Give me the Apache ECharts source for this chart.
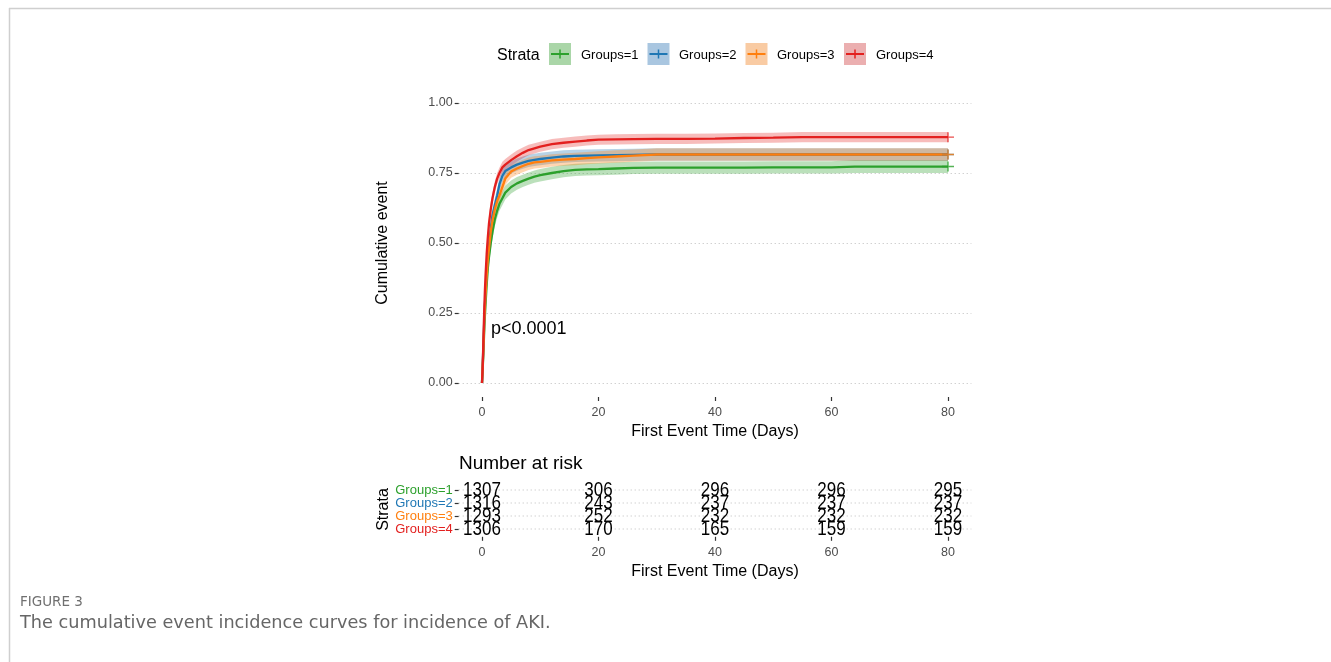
<!DOCTYPE html>
<html>
<head>
<meta charset="utf-8">
<script src="https://cdn.jsdelivr.net/npm/echarts@6/dist/echarts.min.js"></script>
<style>
html,body{margin:0;padding:0;background:#fff;}
#chart{width:1331px;height:662px;}
</style>
</head>
<body>
<div id="chart"></div>
<script>
// ---------- data ----------
const groupNames = ['Groups=1', 'Groups=2', 'Groups=3', 'Groups=4'];
const times = [0,0.1,0.2,0.3,0.4,0.5,0.6,0.8,1.0,1.2,1.5,1.8,2.2,2.6,3.0,3.5,4,5,6,7,8,9,10,12,14,16,18,20,23,26,30,35,40,45,50,55,60,64,70,75,80];

const est1 = [0,0.04,0.09,0.14,0.20,0.24,0.28,0.35,0.41,0.45,0.50,0.54,0.585,0.615,0.64,0.66,0.68,0.70,0.713,0.722,0.73,0.737,0.742,0.75,0.757,0.761,0.763,0.764,0.766,0.768,0.769,0.769,0.769,0.769,0.770,0.770,0.770,0.773,0.773,0.773,0.773];
const lo1  = [0,0.03,0.075,0.12,0.18,0.22,0.255,0.325,0.385,0.425,0.475,0.515,0.56,0.59,0.615,0.635,0.655,0.677,0.69,0.70,0.708,0.715,0.72,0.728,0.735,0.739,0.741,0.742,0.744,0.746,0.747,0.747,0.747,0.747,0.748,0.748,0.748,0.75,0.75,0.75,0.75];
const hi1  = [0,0.05,0.105,0.16,0.22,0.26,0.305,0.375,0.435,0.475,0.525,0.565,0.61,0.64,0.665,0.685,0.705,0.723,0.736,0.744,0.752,0.759,0.764,0.772,0.779,0.783,0.785,0.786,0.788,0.79,0.791,0.791,0.791,0.791,0.792,0.792,0.792,0.796,0.796,0.796,0.796];

const est2 = [0,0.05,0.11,0.17,0.23,0.28,0.32,0.39,0.45,0.49,0.55,0.60,0.635,0.67,0.71,0.74,0.757,0.77,0.78,0.787,0.793,0.797,0.80,0.805,0.809,0.811,0.812,0.813,0.814,0.815,0.816,0.816,0.816,0.816,0.816,0.816,0.816,0.816,0.816,0.816,0.816];
const lo2  = [0,0.038,0.095,0.15,0.21,0.258,0.297,0.367,0.427,0.467,0.527,0.577,0.612,0.647,0.687,0.717,0.734,0.748,0.758,0.765,0.771,0.775,0.778,0.783,0.787,0.789,0.79,0.791,0.792,0.793,0.794,0.794,0.794,0.794,0.794,0.794,0.794,0.794,0.794,0.794,0.794];
const hi2  = [0,0.062,0.125,0.19,0.25,0.302,0.343,0.413,0.473,0.513,0.573,0.623,0.658,0.693,0.733,0.763,0.78,0.792,0.802,0.809,0.815,0.819,0.822,0.827,0.831,0.833,0.834,0.835,0.836,0.837,0.838,0.838,0.838,0.838,0.838,0.838,0.838,0.838,0.838,0.838,0.838];

const est3 = [0,0.05,0.10,0.16,0.22,0.27,0.31,0.38,0.44,0.48,0.54,0.58,0.62,0.65,0.67,0.70,0.73,0.755,0.766,0.775,0.783,0.788,0.79,0.795,0.798,0.80,0.803,0.806,0.809,0.812,0.816,0.816,0.816,0.816,0.816,0.816,0.816,0.816,0.816,0.816,0.816];
const lo3  = [0,0.038,0.085,0.14,0.2,0.248,0.287,0.357,0.417,0.457,0.517,0.557,0.597,0.627,0.647,0.677,0.707,0.733,0.744,0.753,0.761,0.766,0.768,0.773,0.776,0.778,0.781,0.784,0.787,0.79,0.794,0.794,0.794,0.794,0.794,0.794,0.794,0.794,0.794,0.794,0.794];
const hi3  = [0,0.062,0.115,0.18,0.24,0.292,0.333,0.403,0.463,0.503,0.563,0.603,0.643,0.673,0.693,0.723,0.753,0.777,0.788,0.797,0.805,0.81,0.812,0.817,0.82,0.822,0.825,0.828,0.831,0.834,0.838,0.838,0.838,0.838,0.838,0.838,0.838,0.838,0.838,0.838,0.838];

const est4 = [0,0.05,0.12,0.20,0.27,0.33,0.38,0.46,0.52,0.57,0.62,0.66,0.70,0.73,0.75,0.77,0.78,0.796,0.81,0.822,0.832,0.838,0.844,0.853,0.858,0.862,0.866,0.869,0.870,0.871,0.872,0.872,0.873,0.875,0.876,0.878,0.878,0.878,0.878,0.878,0.878];
const lo4  = [0,0.04,0.105,0.18,0.25,0.305,0.355,0.435,0.495,0.545,0.595,0.64,0.68,0.71,0.73,0.75,0.76,0.776,0.79,0.803,0.813,0.82,0.826,0.835,0.84,0.844,0.848,0.851,0.852,0.853,0.854,0.854,0.855,0.857,0.858,0.86,0.86,0.86,0.86,0.86,0.86];
const hi4  = [0,0.062,0.135,0.22,0.29,0.355,0.405,0.485,0.545,0.595,0.645,0.68,0.72,0.75,0.77,0.79,0.80,0.816,0.83,0.841,0.851,0.856,0.862,0.871,0.876,0.88,0.884,0.887,0.888,0.889,0.89,0.89,0.891,0.893,0.894,0.896,0.896,0.896,0.896,0.896,0.896];

const xTicks = [0, 20, 40, 60, 80];
const riskTimes = [0, 20, 40, 60, 80];
const risk1 = [1307, 306, 296, 296, 295];
const risk2 = [1316, 243, 237, 237, 237];
const risk3 = [1293, 252, 232, 232, 232];
const risk4 = [1306, 170, 165, 159, 159];
const pText = 'p<0.0001';

// ---------- styling ----------
const colors = ['#2ca02c', '#1f77b4', '#ff7f0e', '#e3201f'];
const bandColors = ['rgba(44,160,44,0.32)', 'rgba(31,119,180,0.32)', 'rgba(255,127,14,0.32)', 'rgba(227,32,31,0.30)'];
const keyColors = ['#aad6a8', '#a9c6e0', '#f9cba3', '#ebafb0'];
const FONT = '"Liberation Sans", Arial, Helvetica, sans-serif';
const CAPFONT = '"DejaVu Sans", "Open Sans", sans-serif';

const ests = [est1, est2, est3, est4];
const los = [lo1, lo2, lo3, lo4];
const his = [hi1, hi2, hi3, hi4];
const risks = [risk1, risk2, risk3, risk4];

const chart = echarts.init(document.getElementById('chart'), null, { renderer: 'canvas' });

const GL = 458.7, GW = 512.6;
const series = [];

// confidence bands
ests.forEach((e, g) => {
  series.push({
    type: 'custom', name: groupNames[g] + ' CI', xAxisIndex: 0, yAxisIndex: 0,
    silent: true, clip: false, z: 1,
    data: [[times[0], los[g][0]]],
    renderItem: function (params, api) {
      const lo = los[g], hi = his[g];
      const up = [], dn = [];
      for (let i = 0; i < times.length; i++) {
        up.push(api.coord([times[i], hi[i]]));
        dn.push(api.coord([times[i], lo[i]]));
      }
      return { type: 'polygon', shape: { points: up.concat(dn.reverse()) }, style: { fill: bandColors[g] } };
    }
  });
});

// cumulative event curves
ests.forEach((e, g) => {
  series.push({
    type: 'line', name: groupNames[g], xAxisIndex: 0, yAxisIndex: 0,
    symbol: 'none', clip: false, z: 3,
    lineStyle: { color: colors[g], width: 2.3 },
    itemStyle: { color: colors[g] },
    data: times.map((t, i) => [t, e[i]])
  });
});

// censor marks at last time
ests.forEach((e, g) => {
  series.push({
    type: 'scatter', xAxisIndex: 0, yAxisIndex: 0, z: 4, silent: true, clip: false,
    symbol: 'path://M0,4.3H12V5.7H0Z M5.3,0H6.7V10H5.3Z', symbolSize: [12, 10],
    itemStyle: { color: colors[g] },
    data: [[times[times.length - 1], e[e.length - 1]]]
  });
});

// risk table gridlines
[1, 2, 3, 4].forEach(r => {
  series.push({
    type: 'line', xAxisIndex: 1, yAxisIndex: 1, silent: true, symbol: 'none', z: 1,
    lineStyle: { color: '#bdbdbd', width: 1, type: [1, 3] },
    data: [[-4, r], [84, r]]
  });
});

// risk table numbers
const riskData = [];
risks.forEach((arr, g) => arr.forEach((v, j) => riskData.push([riskTimes[j], g + 1, v])));
series.push({
  type: 'custom', xAxisIndex: 1, yAxisIndex: 1, clip: false, z: 5,
  data: riskData,
  renderItem: function (params, api) {
    const p = api.coord([api.value(0), api.value(1)]);
    return {
      type: 'text', x: p[0], y: p[1] + 1, scaleY: 1.15,
      style: { text: String(api.value(2)), align: 'center', verticalAlign: 'middle', fontSize: 17, fontFamily: FONT, fill: '#000' }
    };
  }
});

// graphics: frame, legend, annotations, caption
const graphic = [
  { type: 'line', shape: { x1: 9, y1: 8.5, x2: 1331, y2: 8.5 }, style: { stroke: '#cfcfcf', lineWidth: 1.5 }, silent: true },
  { type: 'line', shape: { x1: 9.5, y1: 8, x2: 9.5, y2: 662 }, style: { stroke: '#cfcfcf', lineWidth: 1.5 }, silent: true },
  { type: 'text', x: 497, y: 56, style: { text: 'Strata', fontSize: 16, fontFamily: FONT, fill: '#000', verticalAlign: 'middle' } },
  { type: 'text', x: 491, y: 329, style: { text: pText, fontSize: 18, fontFamily: FONT, fill: '#000', verticalAlign: 'middle' } },
  { type: 'text', x: 459, y: 464, style: { text: 'Number at risk', fontSize: 19, fontFamily: FONT, fill: '#000', verticalAlign: 'middle' } },
  { type: 'text', x: 20, y: 602, style: { text: 'FIGURE 3', fontSize: 13.5, fontFamily: CAPFONT, fill: '#707070', verticalAlign: 'middle' } },
  { type: 'text', x: 20, y: 623, style: { text: 'The cumulative event incidence curves for incidence of AKI.', fontSize: 17.7, fontFamily: CAPFONT, fill: '#666', verticalAlign: 'middle' } }
];
const keyX = [549, 647.5, 745.5, 844];
const textX = [581, 679, 777, 876];
groupNames.forEach((n, g) => {
  const x = keyX[g];
  graphic.push({ type: 'rect', shape: { x: x, y: 43, width: 22, height: 22 }, style: { fill: keyColors[g] }, silent: true });
  graphic.push({ type: 'line', shape: { x1: x + 2, y1: 54, x2: x + 20, y2: 54 }, style: { stroke: colors[g], lineWidth: 2 }, silent: true });
  graphic.push({ type: 'line', shape: { x1: x + 11, y1: 49.5, x2: x + 11, y2: 58.5 }, style: { stroke: colors[g], lineWidth: 1.5 }, silent: true });
  graphic.push({ type: 'text', x: textX[g], y: 55.5, style: { text: n, fontSize: 13, fontFamily: FONT, fill: '#000', verticalAlign: 'middle' } });
});

const rich = {};
groupNames.forEach((n, g) => { rich['g' + (g + 1)] = { color: colors[g], fontSize: 13, fontFamily: FONT }; });

const option = {
  backgroundColor: '#ffffff',
  animation: false,
  textStyle: { fontFamily: FONT },
  grid: [
    { left: GL, top: 103, width: GW, height: 280 },
    { left: GL, top: 482.2, width: GW, height: 54.6 }
  ],
  xAxis: [
    {
      type: 'value', gridIndex: 0, min: -4, max: 84, offset: 14,
      axisLine: { show: false, onZero: false },
      axisTick: { show: true, customValues: xTicks, length: 4, lineStyle: { color: '#333', width: 1.2 } },
      axisLabel: { customValues: xTicks, color: '#4d4d4d', fontSize: 12.5, margin: 9 },
      splitLine: { show: false },
      name: 'First Event Time (Days)', nameLocation: 'middle', nameGap: 27,
      nameTextStyle: { fontSize: 16, color: '#000', fontFamily: FONT }
    },
    {
      type: 'value', gridIndex: 1, min: -4, max: 84,
      axisLine: { show: false, onZero: false },
      axisTick: { show: true, customValues: xTicks, length: 4, lineStyle: { color: '#333', width: 1.2 } },
      axisLabel: { customValues: xTicks, color: '#4d4d4d', fontSize: 12.5, margin: 9 },
      splitLine: { show: false },
      name: 'First Event Time (Days)', nameLocation: 'middle', nameGap: 27,
      nameTextStyle: { fontSize: 16, color: '#000', fontFamily: FONT }
    }
  ],
  yAxis: [
    {
      type: 'value', gridIndex: 0, min: 0, max: 1, interval: 0.25,
      axisLine: { show: false, onZero: false },
      axisTick: { show: true, length: 4, lineStyle: { color: '#333', width: 1.2 } },
      axisLabel: { color: '#4d4d4d', fontSize: 12.5, margin: 6, formatter: v => v.toFixed(2) },
      splitLine: { show: true, lineStyle: { color: '#bdbdbd', width: 1, type: [1, 3] } },
      name: 'Cumulative event', nameLocation: 'middle', nameGap: 68, nameRotate: 90,
      nameTextStyle: { fontSize: 16, color: '#000', fontFamily: FONT }
    },
    {
      type: 'value', gridIndex: 1, min: 0.4, max: 4.6, inverse: true,
      axisLine: { show: false, onZero: false },
      axisTick: { show: true, customValues: [1, 2, 3, 4], length: 4, lineStyle: { color: '#333', width: 1.2 } },
      axisLabel: { customValues: [1, 2, 3, 4], margin: 6, formatter: v => '{g' + v + '|' + groupNames[v - 1] + '}', rich: rich },
      splitLine: { show: false },
      name: 'Strata', nameLocation: 'middle', nameGap: 66, nameRotate: 90,
      nameTextStyle: { fontSize: 16, color: '#000', fontFamily: FONT }
    }
  ],
  graphic: graphic,
  series: series
};
chart.setOption(option);
</script>
</body>
</html>
